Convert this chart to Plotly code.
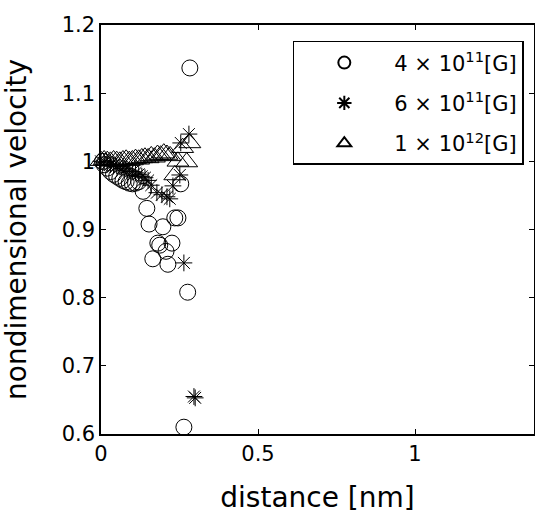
import plotly.graph_objects as go

# 4x10^11 [G]  (open circles)
c_x = [0.005, 0.01, 0.02, 0.03, 0.04, 0.05, 0.06, 0.07, 0.08, 0.09, 0.10, 0.11, 0.12,
       0.134, 0.146, 0.153, 0.165, 0.181, 0.187, 0.197, 0.207, 0.213, 0.226, 0.235, 0.245,
       0.254, 0.264, 0.276, 0.283]
c_y = [1.000, 0.995, 0.990, 0.985, 0.981, 0.978, 0.975, 0.972, 0.970, 0.968, 0.967, 0.968, 0.970,
       0.956, 0.931, 0.908, 0.857, 0.880, 0.877, 0.904, 0.868, 0.849, 0.880, 0.917, 0.917,
       0.967, 0.610, 0.808, 1.137]

# 6x10^11 [G]  (asterisks)
s_x = [0.0, 0.01, 0.02, 0.03, 0.04, 0.05, 0.06, 0.07, 0.08, 0.09, 0.10, 0.11, 0.12, 0.13,
       0.14, 0.15, 0.16, 0.178, 0.194, 0.21, 0.219, 0.229, 0.251, 0.254, 0.264, 0.28, 0.296, 0.30]
s_y = [1.000, 0.998, 0.996, 0.995, 0.994, 0.993, 0.992, 0.990, 0.989, 0.987, 0.985, 0.983, 0.981, 0.978,
       0.976, 0.972, 0.965, 0.954, 0.951, 0.948, 0.945, 0.964, 0.980, 1.027, 0.851, 1.040, 0.655, 0.653]

# 1x10^12 [G]  (open triangles)
t_x = [0.0, 0.01, 0.02, 0.03, 0.04, 0.05, 0.06, 0.07, 0.08, 0.09, 0.10, 0.11, 0.12, 0.13,
       0.14, 0.15, 0.16, 0.17, 0.18, 0.19, 0.20, 0.21, 0.22, 0.235, 0.245, 0.26, 0.273, 0.283]
t_y = [1.001, 1.002, 1.001, 1.000, 1.002, 1.001, 1.000, 1.002, 1.003, 1.001, 1.002, 1.004, 1.003, 1.005,
       1.006, 1.005, 1.008, 1.006, 1.010, 1.009, 1.012, 1.010, 1.008, 0.980, 1.000, 1.020, 0.999, 1.027]

labels = ["4 × 10<sup>11</sup>[G]", "6 × 10<sup>11</sup>[G]", "1 × 10<sup>12</sup>[G]"]

FONT = "DejaVu Sans, Liberation Sans, Arial, sans-serif"

fig = go.Figure()
fig.add_trace(go.Scatter(x=c_x, y=c_y, mode="markers", name=labels[0], legendgroup="a",
                         cliponaxis=False,
                         marker=dict(symbol="circle-open", size=16, color="black",
                                     line=dict(width=1, color="black"))))
fig.add_trace(go.Scatter(x=s_x, y=s_y, mode="markers", name=labels[1], legendgroup="b",
                         cliponaxis=False,
                         marker=dict(symbol="asterisk-open", size=14, color="black",
                                     line=dict(width=1, color="black"))))
fig.add_trace(go.Scatter(x=t_x, y=t_y, mode="markers", name=labels[2], legendgroup="c",
                         cliponaxis=False,
                         marker=dict(symbol="triangle-up-open", size=19, color="black",
                                     line=dict(width=1, color="black"))))

axis_common = dict(showline=True, linecolor="black", linewidth=1.5, mirror="ticks",
                   ticks="inside", ticklen=5, tickcolor="black", showgrid=False,
                   zeroline=False, automargin=False,
                   tickfont=dict(size=21, color="black", family=FONT))

fig.update_layout(
    width=535, height=525,
    margin=dict(l=101, r=1, t=25, b=91),
    paper_bgcolor="white", plot_bgcolor="white",
    font=dict(family=FONT, color="black"),
    xaxis=dict(range=[0, 1.379], tickvals=[0, 0.5, 1], ticktext=["0", "0.5", "1"],
               title=dict(text="distance [nm]", font=dict(size=28, family=FONT), standoff=22),
               **axis_common),
    yaxis=dict(range=[0.6, 1.2], tickvals=[0.6, 0.7, 0.8, 0.9, 1.0, 1.1, 1.2],
               ticktext=["0.6", "0.7", "0.8", "0.9", "1", "1.1", "1.2"],
               title=dict(text="nondimensional velocity", font=dict(size=28, family=FONT), standoff=28),
               **axis_common),
    legend=dict(x=0.443, y=0.961, xanchor="left", yanchor="top",
                bordercolor="black", borderwidth=1.5, bgcolor="white",
                font=dict(size=21, family=FONT, color="black"),
                itemwidth=90, tracegroupgap=10, itemsizing="constant"),
    showlegend=True,
)

fig.write_html("out.html",
               config={"displayModeBar": False},
               post_script="document.body.style.margin='0';document.body.style.overflow='hidden';")
